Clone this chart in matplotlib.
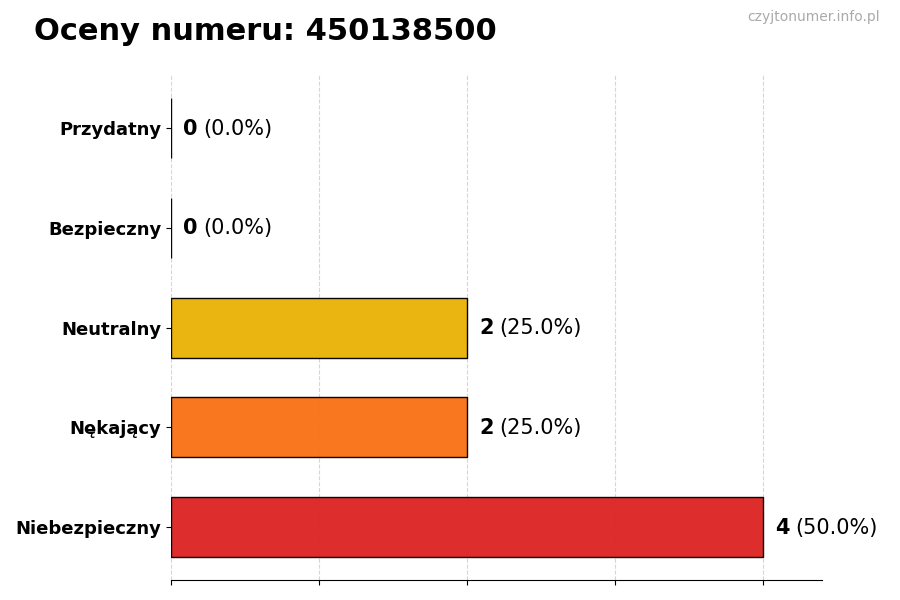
import matplotlib
matplotlib.use('Agg')
import matplotlib.pyplot as plt

categories = ['Niebezpieczny', 'Nękający', 'Neutralny', 'Bezpieczny', 'Przydatny']
counts = [4, 2, 2, 0, 0]
colors = ['#dc2626', '#f97316', '#eab308', '#22c55e', '#3b82f6']
number = '450138500'

total = sum(counts)

fig = plt.figure(figsize=(9, 6), dpi=100)
ax = fig.add_axes([0.19, 0.033, 0.723, 0.842])

bars = ax.barh(categories, counts, height=0.6, color=colors, alpha=0.97,
               edgecolor='black', linewidth=1, zorder=2)
ax.set_xlim(0, max(counts) * 1.1)
ax.set_xticks(range(0, max(counts) + 1))
ax.set_xticklabels([])
ax.grid(axis='x', linestyle='--', color='#cccccc', linewidth=0.8, alpha=0.8, zorder=0)
ax.set_axisbelow(True)

for side in ['top', 'right', 'left']:
    ax.spines[side].set_visible(False)

for lbl in ax.get_yticklabels():
    lbl.set_fontweight('bold')
    lbl.set_fontsize(13)

for bar, val in zip(bars, counts):
    y = bar.get_y() + bar.get_height() / 2
    t = ax.annotate(str(val), (val, y), xytext=(9, -0.5), textcoords='offset points',
                    ha='left', va='center', fontsize=15, fontweight='bold')
    pct = 100.0 * val / total if total else 0
    ax.annotate(f'({pct:.1f}%)', xy=(1, 0.5), xycoords=t, xytext=(4, 0),
                textcoords='offset points', ha='left', va='center', fontsize=15)

fig.text(0.038, 0.948, f'Oceny numeru: {number}', fontsize=22, fontweight='bold',
         ha='left', va='center')
fig.text(0.978, 0.971, 'czyjtonumer.info.pl', fontsize=10, color='#aaaaaa',
         ha='right', va='center')

fig.savefig('out.png', dpi=100)
